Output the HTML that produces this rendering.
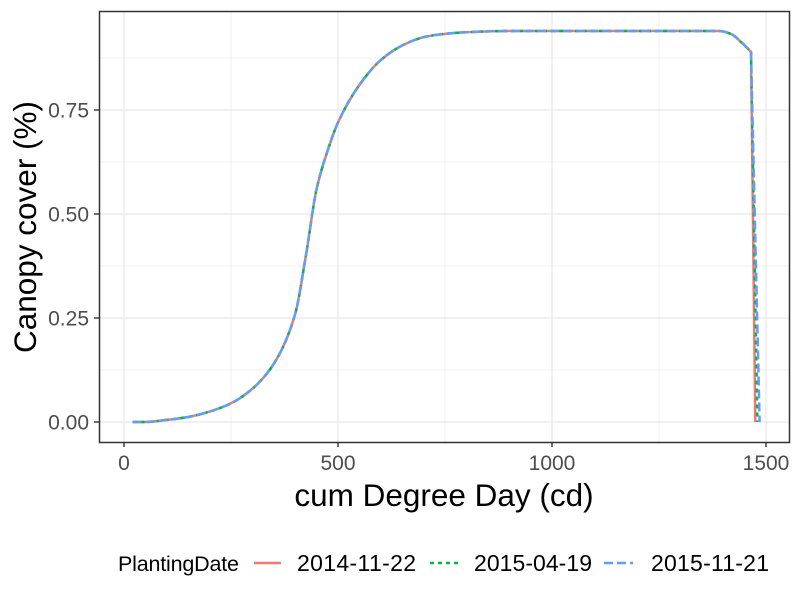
<!DOCTYPE html>
<html><head><meta charset="utf-8"><style>
body{margin:0;background:#fff;font-family:"Liberation Sans",sans-serif}
</style></head><body>
<svg width="800" height="600" id="c" xmlns="http://www.w3.org/2000/svg" font-family="Liberation Sans, sans-serif">
<g id="grid"></g>
<g id="series"></g>
<rect x="99.5" y="11.5" width="690" height="431" fill="none" stroke="#333" stroke-width="1.5"/>
<g id="axes"></g>
<text x="444" y="506" font-size="31.5" text-anchor="middle" fill="#000">cum Degree Day (cd)</text>
<text transform="translate(36,227) rotate(-90)" font-size="31.5" text-anchor="middle" fill="#000">Canopy cover (%)</text>
<g>
<text x="118" y="571" font-size="21.5" textLength="121">PlantingDate</text>
<line x1="254" y1="563" x2="281" y2="563" stroke="#F8766D" stroke-width="2.5"/>
<text x="297" y="571" font-size="23" textLength="119">2014-11-22</text>
<line x1="430" y1="563" x2="459" y2="563" stroke="#00BA38" stroke-width="2.5" stroke-dasharray="4,4"/>
<text x="474" y="571" font-size="23" textLength="118">2015-04-19</text>
<line x1="604" y1="563" x2="633" y2="563" stroke="#619CFF" stroke-width="2.5" stroke-dasharray="9,4"/>
<text x="651" y="571" font-size="23" textLength="118">2015-11-21</text>
</g>
</svg>
<script>
const xTicks=[0,500,1000,1500];
const xTickLabels=["0","500","1000","1500"];
const yTicks=[0,0.25,0.5,0.75];
const yTickLabels=["0.00","0.25","0.50","0.75"];
const baseX=[20,50,100,150,200,250,300,350,400,425,450,475,500,550,600,650,700,750,800,900,1000,1100,1200,1300,1390,1420,1440,1465];
const baseY=[0,0,0.005,0.012,0.025,0.045,0.08,0.14,0.26,0.40,0.56,0.65,0.72,0.81,0.87,0.905,0.925,0.933,0.937,0.94,0.94,0.94,0.94,0.94,0.94,0.932,0.915,0.89];
const seriesNames=["2014-11-22","2015-04-19","2015-11-21"];
const endX=[1475,1480,1485];
const colors=["#F8766D","#00BA38","#619CFF"];
const dashes=["none","4,4","9,4"];
const sx=v=>124+v*0.428;
const sy=v=>422-v*416;
const NS="http://www.w3.org/2000/svg";
const grid=document.getElementById('grid'),axes=document.getElementById('axes'),ser=document.getElementById('series');
function mk(tag,at,parent){const e=document.createElementNS(NS,tag);for(const k in at)e.setAttribute(k,at[k]);parent.appendChild(e);return e;}
function monotone(px,py){
  const n=px.length,d=[],m=[];
  for(let i=0;i<n-1;i++)d.push((py[i+1]-py[i])/(px[i+1]-px[i]));
  m[0]=d[0];m[n-1]=d[n-2];
  for(let i=1;i<n-1;i++)m[i]=(d[i-1]*d[i]<=0)?0:3*(px[i+1]-px[i-1])/((2*px[i+1]-px[i]-px[i-1])/d[i-1]+(px[i+1]+px[i]-2*px[i-1])/d[i]);
  let s='M'+px[0].toFixed(1)+','+py[0].toFixed(1);
  for(let i=0;i<n-1;i++){const h=(px[i+1]-px[i])/3;
    s+='C'+(px[i]+h).toFixed(1)+','+(py[i]+m[i]*h).toFixed(1)+' '+(px[i+1]-h).toFixed(1)+','+(py[i+1]-m[i+1]*h).toFixed(1)+' '+px[i+1].toFixed(1)+','+py[i+1].toFixed(1);}
  return s;
}
for(let i=0;i<xTicks.length;i++){
  const x=sx(xTicks[i]);
  const g=mk('line',{x1:x,x2:x,y1:12,y2:442,stroke:'#ebebeb','stroke-width':1.4},grid);
  
  
  if(i<xTicks.length-1){const m=sx((xTicks[i]+xTicks[i+1])/2);
    const mg=mk('line',{x1:m,x2:m,y1:12,y2:442,stroke:'#ebebeb','stroke-width':0.7},grid);
    
    }
  const tk=mk('line',{x1:x,x2:x,y1:442,y2:447,stroke:'#333','stroke-width':1.4},axes);
  
  
  const tl=mk('text',{x:x,y:470,'font-size':21,'text-anchor':'middle',fill:'#4d4d4d'},axes);
  tl.textContent=xTickLabels[i];
  
  
}
for(let i=0;i<yTicks.length;i++){
  const y=sy(yTicks[i]);
  const g=mk('line',{x1:100,x2:790,y1:y,y2:y,stroke:'#ebebeb','stroke-width':1.4},grid);
  
  
  const m=sy(yTicks[i]+0.125);
  const mg=mk('line',{x1:100,x2:790,y1:m,y2:m,stroke:'#ebebeb','stroke-width':0.7},grid);
  
  
  const tk=mk('line',{x1:94,x2:99,y1:y,y2:y,stroke:'#333','stroke-width':1.4},axes);
  
  
  const tl=mk('text',{x:89,y:y+7.5,'font-size':21,'text-anchor':'end',fill:'#4d4d4d'},axes);
  tl.textContent=yTickLabels[i];
  
  
}
for(let s=0;s<seriesNames.length;s++){
  let d=monotone(baseX.map(sx),baseY.map(sy));
  d+='L'+sx(endX[s]).toFixed(1)+','+sy(0).toFixed(1);
  const p=mk('path',{d:d,fill:'none',stroke:colors[s],'stroke-width':2.5,'stroke-dasharray':dashes[s]},ser);
  
  
}
</script>
</body></html>
